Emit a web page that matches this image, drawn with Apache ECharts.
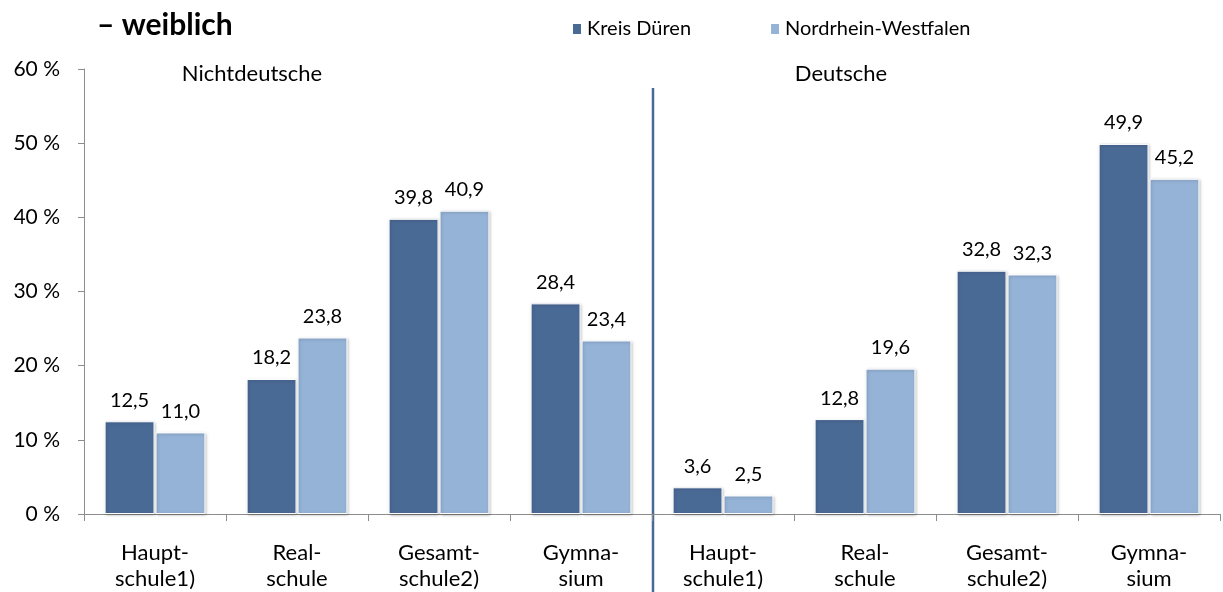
<!DOCTYPE html>
<html>
<head>
<meta charset="utf-8">
<script src="https://cdn.jsdelivr.net/npm/echarts@6/dist/echarts.min.js"></script>
<style>
  html, body { margin: 0; padding: 0; background: #fff; }
  #chart { width: 1223px; height: 592px; }
</style>
</head>
<body>
<div id="chart"></div>
<script>
// Schulformen (jeweils für Nichtdeutsche und Deutsche)
const categories = [
  'Haupt-\nschule1)', 'Real-\nschule', 'Gesamt-\nschule2)', 'Gymna-\nsium',
  'Haupt-\nschule1)', 'Real-\nschule', 'Gesamt-\nschule2)', 'Gymna-\nsium'
];
const kreisDueren = [12.5, 18.2, 39.8, 28.4, 3.6, 12.8, 32.8, 49.9];
const nrw = [11.0, 23.8, 40.9, 23.4, 2.5, 19.6, 32.3, 45.2];
const yTicks = { min: 0, max: 60, interval: 10 };

const FONT = 'Lato, "Open Sans", sans-serif';
const fmt = v => v.toFixed(1).replace('.', ',');

const chart = echarts.init(document.getElementById('chart'));

function barSeries(name, data, color) {
  return {
    name: name,
    type: 'bar',
    data: data,
    barGap: '2%',
    barCategoryGap: '29%',
    itemStyle: {
      color: color,
      borderColor: '#fff',
      borderWidth: 1,
      shadowColor: 'rgba(0,0,0,0.25)',
      shadowBlur: 3,
      shadowOffsetX: 1,
      shadowOffsetY: 1
    },
    label: {
      show: true,
      position: 'top',
      distance: 11,
      color: '#000',
      fontFamily: FONT,
      fontSize: 20,
      formatter: p => fmt(p.value)
    }
  };
}

chart.setOption({
  animation: false,
  textStyle: { fontFamily: FONT },
  grid: { left: 84, right: 3, top: 69, bottom: 75 },
  legend: {
    left: 566,
    top: 14,
    icon: 'rect',
    itemWidth: 10,
    itemHeight: 12,
    itemGap: 78,
    textStyle: { fontFamily: FONT, fontSize: 20, color: '#000' }
  },
  xAxis: {
    type: 'category',
    data: categories,
    axisLine: { lineStyle: { color: '#8c8c8c', width: 1 } },
    axisTick: { show: true, length: 7, lineStyle: { color: '#8c8c8c' } },
    axisLabel: {
      color: '#000',
      fontSize: 22,
      lineHeight: 26,
      margin: 26,
      interval: 0
    }
  },
  yAxis: {
    type: 'value',
    min: yTicks.min,
    max: yTicks.max,
    interval: yTicks.interval,
    axisLine: { show: true, lineStyle: { color: '#8c8c8c', width: 1 } },
    axisTick: { show: true, length: 6, lineStyle: { color: '#8c8c8c' } },
    splitLine: { show: false },
    axisLabel: {
      color: '#000',
      fontSize: 21,
      margin: 24,
      formatter: '{value} %'
    }
  },
  series: [
    barSeries('Kreis Düren', kreisDueren, '#4A6A96'),
    barSeries('Nordrhein-Westfalen', nrw, '#95B3D7')
  ]
});

// Trennlinie zwischen Nichtdeutsche und Deutsche
const x3 = chart.convertToPixel({ xAxisIndex: 0 }, 3);
const x4 = chart.convertToPixel({ xAxisIndex: 0 }, 4);
const divX = Math.round((x3 + x4) / 2) + 1;

chart.setOption({
  graphic: [
    {
      type: 'text',
      x: 97, y: 25,
      style: { text: '– weiblich', font: 'bold 30px ' + FONT, fill: '#000', verticalAlign: 'middle' }
    },
    {
      type: 'line',
      shape: { x1: divX, y1: 88, x2: divX, y2: 592 },
      style: { stroke: '#4A6A96', lineWidth: 2.5 }
    },
    {
      type: 'text',
      x: 252, y: 74,
      style: { text: 'Nichtdeutsche', font: '22px ' + FONT, fill: '#000', align: 'center', verticalAlign: 'middle' }
    },
    {
      type: 'text',
      x: 841, y: 74,
      style: { text: 'Deutsche', font: '22px ' + FONT, fill: '#000', align: 'center', verticalAlign: 'middle' }
    }
  ]
});
</script>
</body>
</html>
